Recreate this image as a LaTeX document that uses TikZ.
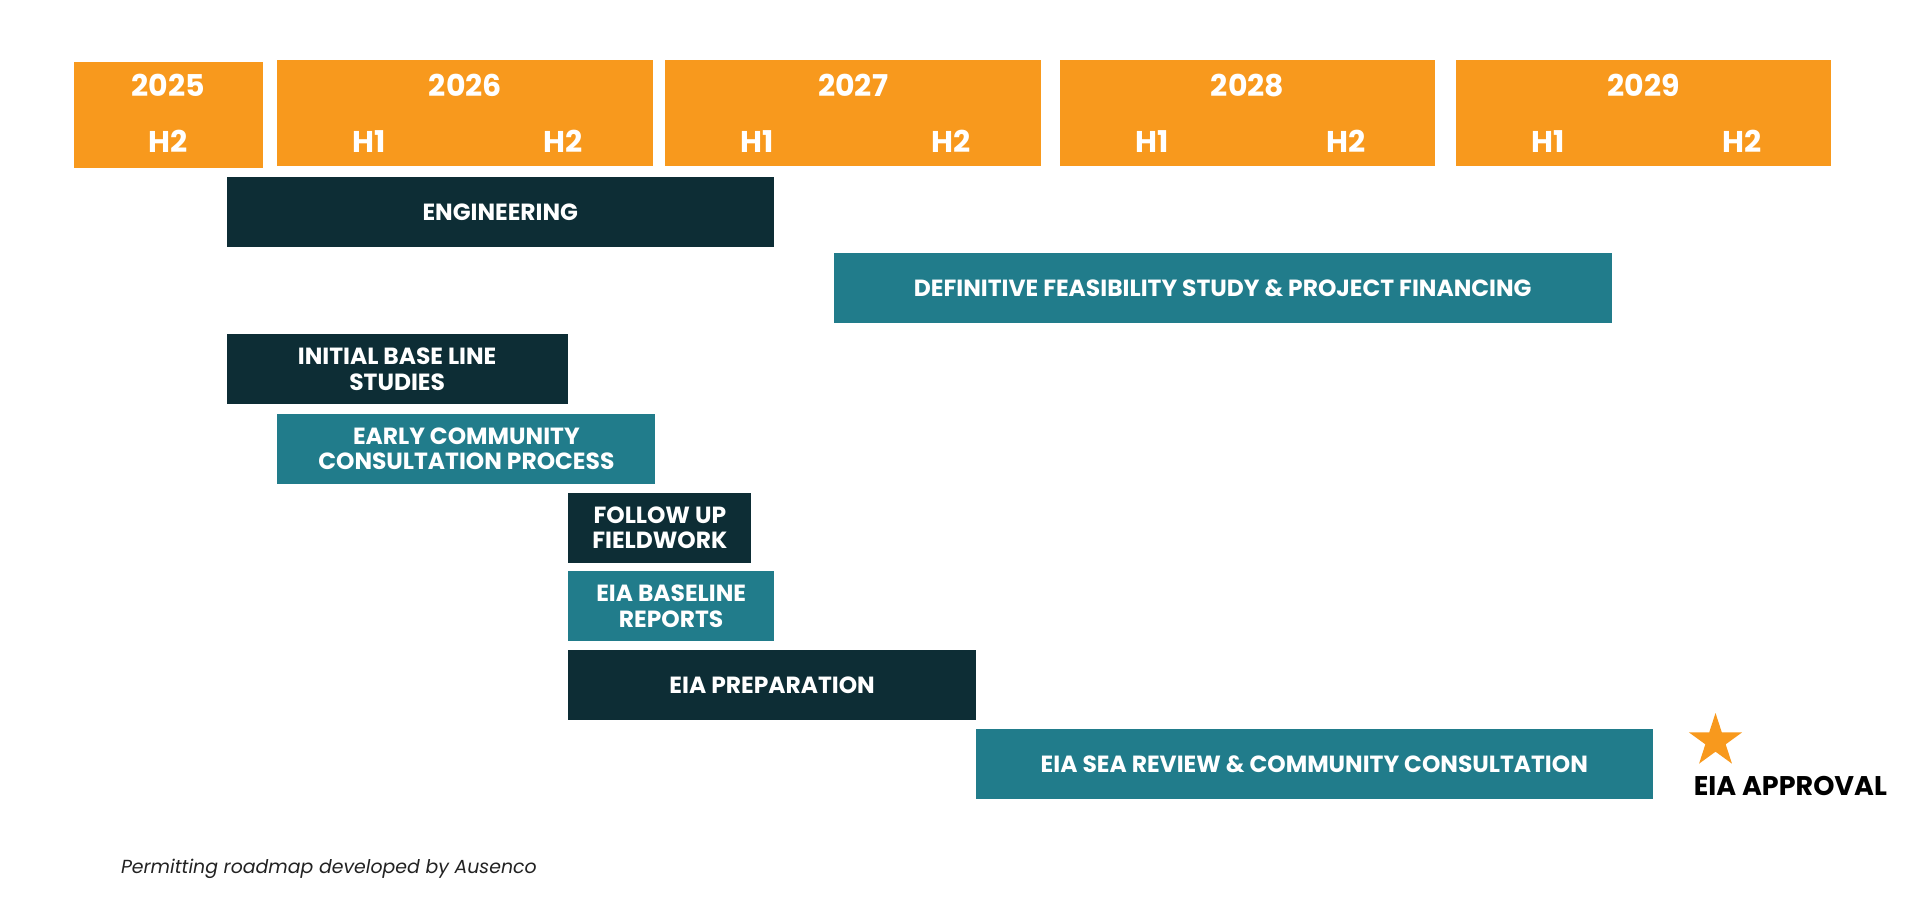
\documentclass[tikz,border=0pt]{standalone}
\usepackage{fontspec}
\setmainfont{Poppins}
\newfontfamily\popb{Poppins}[UprightFont=* Bold]
\usetikzlibrary{shapes.geometric}
\definecolor{gorange}{HTML}{F8991D}
\definecolor{gdark}{HTML}{0D2D35}
\definecolor{gteal}{HTML}{217C8B}
\definecolor{gcap}{HTML}{222222}
\begin{document}
\begin{tikzpicture}[x=0.5pt,y=-0.5pt,
  yearbox/.style={rectangle, fill=gorange, inner sep=0, outer sep=0, minimum height=53pt},
  yeartxt/.style={text=white, inner sep=0, font=\popb\fontsize{15}{18}\selectfont},
  gbox/.style={rectangle, inner sep=0, outer sep=0, minimum height=35pt, text=white, align=center,
    font=\popb\fontsize{11.7}{12.65}\selectfont},
  darkbar/.style={gbox, fill=gdark},
  tealbar/.style={gbox, fill=gteal}]
\useasboundingbox (0,0) rectangle (1920,914);
\fill[white] (0,0) rectangle (1920,914);
% year boxes
\node[yearbox, minimum width=94.9pt, minimum height=53pt] (y25) at (168.4,114.7) {};
\node[yearbox, minimum width=188pt] (y26) at (465.4,113.35) {};
\node[yearbox, minimum width=188.2pt] (y27) at (853.2,113.35) {};
\node[yearbox, minimum width=187.7pt] (y28) at (1247.5,113.35) {};
\node[yearbox, minimum width=187.7pt] (y29) at (1643.7,113.35) {};
% year labels
\node[yeartxt] (t25) at (168.4,85.7) {2025};
\node[yeartxt] (t26) at (465.4,85.7) {2026};
\node[yeartxt] (t27) at (853.2,85.7) {2027};
\node[yeartxt] (t28) at (1247.5,85.7) {2028};
\node[yeartxt] (t29) at (1643.7,85.7) {2029};
% half labels
\node[yeartxt] (h25b) at (168,141.7) {H2};
\node[yeartxt] (h26a) at (369.4,141.7) {H1};
\node[yeartxt] (h26b) at (563.4,141.7) {H2};
\node[yeartxt] (h27a) at (757,141.7) {H1};
\node[yeartxt] (h27b) at (951,141.7) {H2};
\node[yeartxt] (h28a) at (1151.8,141.7) {H1};
\node[yeartxt] (h28b) at (1345.8,141.7) {H2};
\node[yeartxt] (h29a) at (1548,141.7) {H1};
\node[yeartxt] (h29b) at (1742,141.7) {H2};
% bars
\node[darkbar, minimum width=273.7pt] (eng) at (500.3,212.3) {ENGINEERING};
\node[tealbar, minimum width=388.75pt] (dfs) at (1222.75,288.15) {DEFINITIVE FEASIBILITY STUDY \& PROJECT FINANCING};
\node[darkbar, minimum width=170.55pt] (init) at (397.15,369.3) {INITIAL BASE LINE\\STUDIES};
\node[tealbar, minimum width=188.95pt] (early) at (466.35,448.85) {EARLY COMMUNITY\\CONSULTATION PROCESS};
\node[darkbar, minimum width=91.55pt] (follow) at (659.85,527.5) {FOLLOW UP\\FIELDWORK};
\node[tealbar, minimum width=102.85pt] (base) at (671.15,606.3) {EIA BASELINE\\REPORTS};
\node[darkbar, minimum width=203.85pt] (prep) at (772.15,685) {EIA PREPARATION};
\node[tealbar, minimum width=338.3pt] (sea) at (1314.3,764.3) {EIA SEA REVIEW \& COMMUNITY CONSULTATION};
% milestone
\node[star, star points=5, star point ratio=2.618, fill=gorange, inner sep=0, minimum size=28pt] (star) at (1715.5,741) {};
\node[inner sep=0, text=black, font=\popb\fontsize{13.5}{16}\selectfont] (appr) at (1790.4,786) {EIA APPROVAL};
% caption
\node[anchor=base west, inner sep=0, text=gcap, font=\itshape\fontsize{9.45}{12}\selectfont] (cap) at (120.6,873) {Permitting roadmap developed by Ausenco};
\end{tikzpicture}
\end{document}
